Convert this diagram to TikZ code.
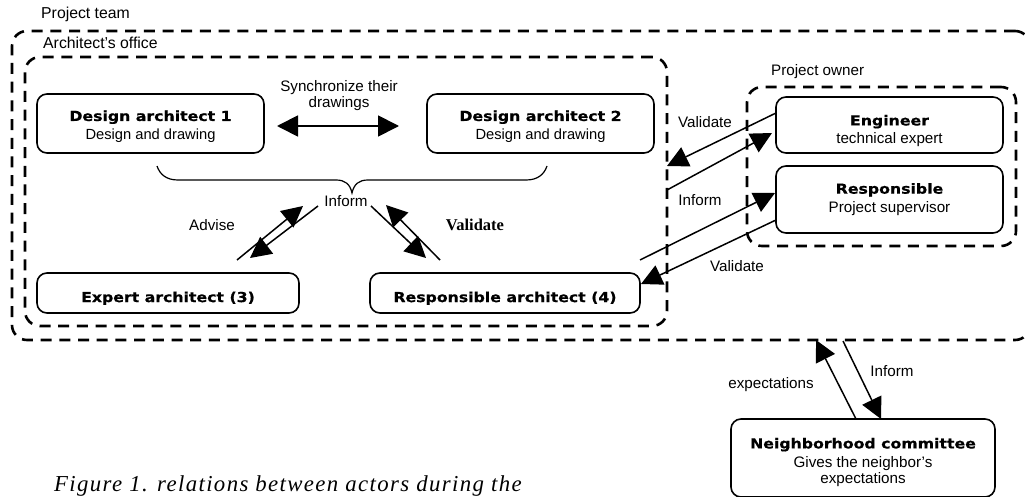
\documentclass[tikz,border=0pt]{standalone}
\usepackage{fontspec}
\setmainfont{Liberation Sans}
\newfontfamily\boldfam[FakeStretch=1.14,FakeBold=0.6]{DejaVu Sans Bold}
\newfontfamily\capfam[LetterSpace=6]{Liberation Serif Italic}
\newfontfamily\serifbold{Liberation Serif Bold}
\usetikzlibrary{arrows.meta}
\tikzset{
  x=1pt,y=-1pt,
  zone/.style={draw,line width=2.6pt,dash pattern=on 11pt off 7.7pt,rounded corners=15pt,minimum width=#1,inner sep=0pt},
  actor/.style={draw,line width=1.6pt,rounded corners=10pt,inner sep=0pt,align=center,font=\fontsize{15.2}{19}\selectfont},
  txt/.style={inner sep=0pt,font=\fontsize{15.2}{16}\selectfont,align=center},
  toptxt/.style={inner sep=0pt,font=\fontsize{15.8}{16}\selectfont,anchor=west},
  flow/.style={line width=1.5pt,-{Triangle[length=21pt,width=21pt]}},
  both/.style={line width=1.8pt,{Triangle[length=21pt,width=21pt]}-{Triangle[length=21pt,width=21pt]}},
}
\newcommand{\hd}[1]{{\boldfam\fontsize{13.8}{15}\selectfont #1}}
\begin{document}
\begin{tikzpicture}
\useasboundingbox (0,0) rectangle (1025,497);
\clip (0,0) rectangle (1025,497);
\fill[white] (0,0) rectangle (1025,497);
% zones
\node[zone=1018pt,minimum height=309pt] (team) at (521,185.5) {};
\node[zone=642pt,minimum height=269pt] (office) at (346,191.5) {};
\node[zone=269pt,minimum height=159pt] (owner) at (881.5,166.5) {};
% actors
\node[actor,font=\fontsize{14.7}{19}\selectfont,minimum width=227pt,minimum height=59pt] (da1) at (150.5,123.5) {\rule{0pt}{17pt}\hd{Design architect 1}\\Design and drawing};
\node[actor,font=\fontsize{14.7}{19}\selectfont,minimum width=227pt,minimum height=59pt] (da2) at (540.5,123.5) {\rule{0pt}{17pt}\hd{Design architect 2}\\Design and drawing};
\node[actor,minimum width=227pt,minimum height=56pt] (eng) at (889.5,125) {\rule{0pt}{22pt}\hd{Engineer}\\[-1pt]technical expert};
\node[actor,minimum width=227pt,minimum height=67pt] (resp) at (889.5,199.5) {\hd{Responsible}\\Project supervisor};
\node[actor,minimum width=262pt,minimum height=40pt] (expert) at (168,293) {\rule{0pt}{21pt}\hd{Expert architect (3)}};
\node[actor,minimum width=270pt,minimum height=40pt] (resparch) at (505,293) {\rule{0pt}{21pt}\hd{Responsible architect (4)}};
\node[actor,minimum width=264pt,minimum height=78pt] (neigh) at (863,458) {\rule{0pt}{19pt}\hd{Neighborhood committee}\\Gives the neighbor's\\[-3pt]expectations};
% labels
\node[toptxt] (lteam) at (41,14) {Project team};
\node[toptxt] (loffice) at (43,43) {Architect's office};
\node[txt,anchor=west] (lowner) at (771,72) {Project owner};
\node[txt] (lsync) at (339,96) {Synchronize their\\drawings};
\node[txt] (linform) at (346,201) {Inform};
\node[txt] (ladvise) at (212,225) {Advise};
\node[inner sep=0pt,font=\serifbold\fontsize{16.5}{18}\selectfont] (lvalid) at (475,225) {Validate};
\node[txt] (lv1) at (705,122) {Validate};
\node[txt] (li1) at (700,200) {Inform};
\node[txt] (lv2) at (737,266) {Validate};
\node[txt] (lexp) at (771,385) {expectations};
\node[txt] (li2) at (892,371) {Inform};
\node[inner sep=0pt,anchor=base west,font=\capfam\fontsize{22.8}{24}\selectfont] (cap) at (54,491) {Figure 1. relations between actors during the};
% brace
\draw[line width=1.2pt] (157,166) .. controls (160,175) and (167,180) .. (178,180) -- (336,180)
  .. controls (345,180) and (350,184) .. (352,193) .. controls (354,184) and (359,180) .. (368,180)
  -- (526,180) .. controls (537,180) and (544,175) .. (547,166);
% connector ends
\coordinate (s1) at (277,126); \coordinate (s2) at (399,126);
\coordinate (a1) at (318,206); \coordinate (a2) at (250,258);
\coordinate (a3) at (237,260); \coordinate (a4) at (303,206);
\coordinate (b1) at (371,206); \coordinate (b2) at (426,258);
\coordinate (b3) at (440,260); \coordinate (b4) at (386,205);
\coordinate (c1) at (776,113); \coordinate (c2) at (667,166);
\coordinate (c3) at (667,190); \coordinate (c4) at (772,133);
\coordinate (c5) at (640,260); \coordinate (c6) at (775,193);
\coordinate (c7) at (776,220); \coordinate (c8) at (641,284);
\coordinate (d1) at (856,419); \coordinate (d2) at (816,340);
\coordinate (d3) at (843,341); \coordinate (d4) at (881,419);
% connectors
\draw[both] (s1) -- (s2);
\draw[flow] (a1) -- (a2);
\draw[flow] (a3) -- (a4);
\draw[flow] (b1) -- (b2);
\draw[flow] (b3) -- (b4);
\draw[flow] (c1) -- (c2);
\draw[flow] (c3) -- (c4);
\draw[flow] (c5) -- (c6);
\draw[flow] (c7) -- (c8);
\draw[flow] (d1) -- (d2);
\draw[flow] (d3) -- (d4);
\end{tikzpicture}
\end{document}
